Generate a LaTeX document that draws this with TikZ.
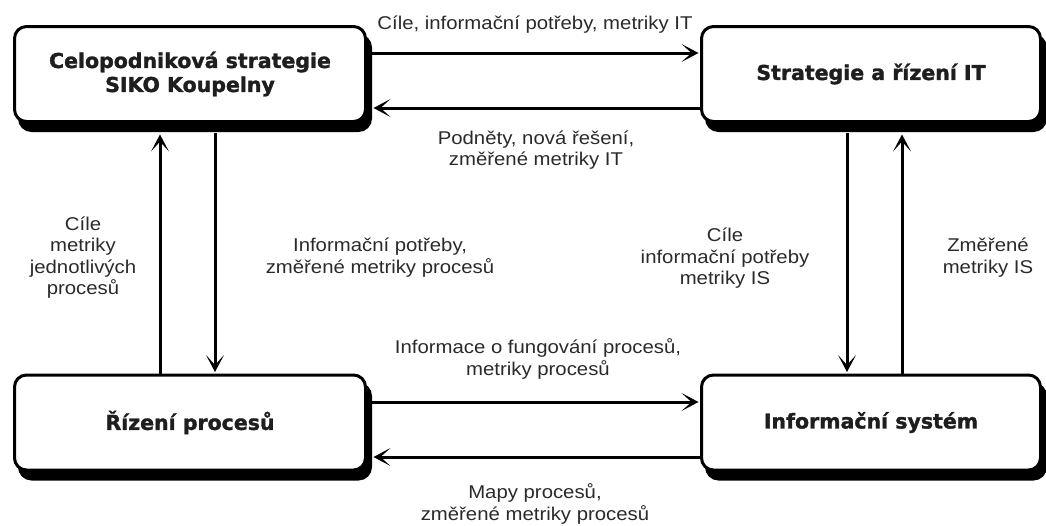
\documentclass[tikz,border=0pt]{standalone}
\usepackage{fontspec}
\setmainfont{Liberation Sans}
\newfontfamily\lblfont{Liberation Sans}[FakeStretch=1.1]
\newfontfamily\boxfont{DejaVu Sans}[BoldFeatures={FakeBold=1.5}]
\usetikzlibrary{arrows.meta,shadows}
\definecolor{ink}{HTML}{1E1E1E}
\definecolor{lblink}{HTML}{2A2A2A}
\begin{document}
\begin{tikzpicture}[x=1pt,y=-1pt,
  box/.style={draw=black, line width=3pt, rounded corners=12pt, fill=white,
    minimum height=95pt, inner sep=0pt, align=center, text=ink,
    font=\boxfont\bfseries\fontsize{20.5}{24}\selectfont,
    general shadow={fill=black, draw=black, line width=3pt, shadow xshift=5pt, shadow yshift=-9pt}},
  lbl/.style={align=center, text=lblink, inner sep=0pt, font=\lblfont\fontsize{18.5}{21.5}\selectfont},
  arr/.style={line width=3pt, draw=black, -{Stealth[length=17pt,width=18pt,inset=10pt]}}
]
\useasboundingbox (0,0) rectangle (1046,525);

\node[box, minimum width=351pt] (TL) at (190,74) {Celopodniková strategie\\SIKO Koupelny};
\node[box, minimum width=339pt] (TR) at (871,74) {Strategie a řízení IT};
\node[box, minimum width=351pt] (BL) at (190,422.5) {Řízení procesů};
\node[box, minimum width=339pt] (BR) at (871,422.5) {Informační systém};

% horizontal top
\draw[arr] ([yshift=21pt]TL.east) -- ([yshift=21pt,xshift=-1.5pt]TR.west);
\draw[arr] ([yshift=-34pt]TR.west) -- ([yshift=-34pt,xshift=6.5pt]TL.east);
% horizontal bottom
\draw[arr] ([yshift=20.5pt]BL.east) -- ([yshift=20.5pt,xshift=-1.5pt]BR.west);
\draw[arr] ([yshift=-34.5pt]BR.west) -- ([yshift=-34.5pt,xshift=6.5pt]BL.east);
% vertical left
\draw[arr] ([xshift=-30pt]BL.north) -- ([xshift=-30pt,yshift=-11.5pt]TL.south);
\draw[arr] ([xshift=25pt,yshift=-10pt]TL.south) -- ([xshift=25pt,yshift=1.5pt]BL.north);
% vertical right
\draw[arr] ([xshift=-24pt,yshift=-10pt]TR.south) -- ([xshift=-24pt,yshift=1.5pt]BR.north);
\draw[arr] ([xshift=31pt]BR.north) -- ([xshift=31pt,yshift=-11.5pt]TR.south);

% labels
\node[lbl] (l1) at (535,25) {Cíle, informační potřeby, metriky IT};
\node[lbl] (l2) at (536,150) {Podněty, nová řešení,\\změřené metriky IT};
\node[lbl] (l3) at (83,257.5) {Cíle\\metriky\\jednotlivých\\procesů};
\node[lbl] (l4) at (380,257.5) {Informační potřeby,\\změřené metriky procesů};
\node[lbl] (l5) at (725,258.5) {Cíle\\informační potřeby\\metriky IS};
\node[lbl] (l6) at (988,257.5) {Změřené\\metriky IS};
\node[lbl] (l7) at (538,359) {Informace o fungování procesů,\\metriky procesů};
\node[lbl] (l8) at (535,504) {Mapy procesů,\\změřené metriky procesů};
\end{tikzpicture}
\end{document}
